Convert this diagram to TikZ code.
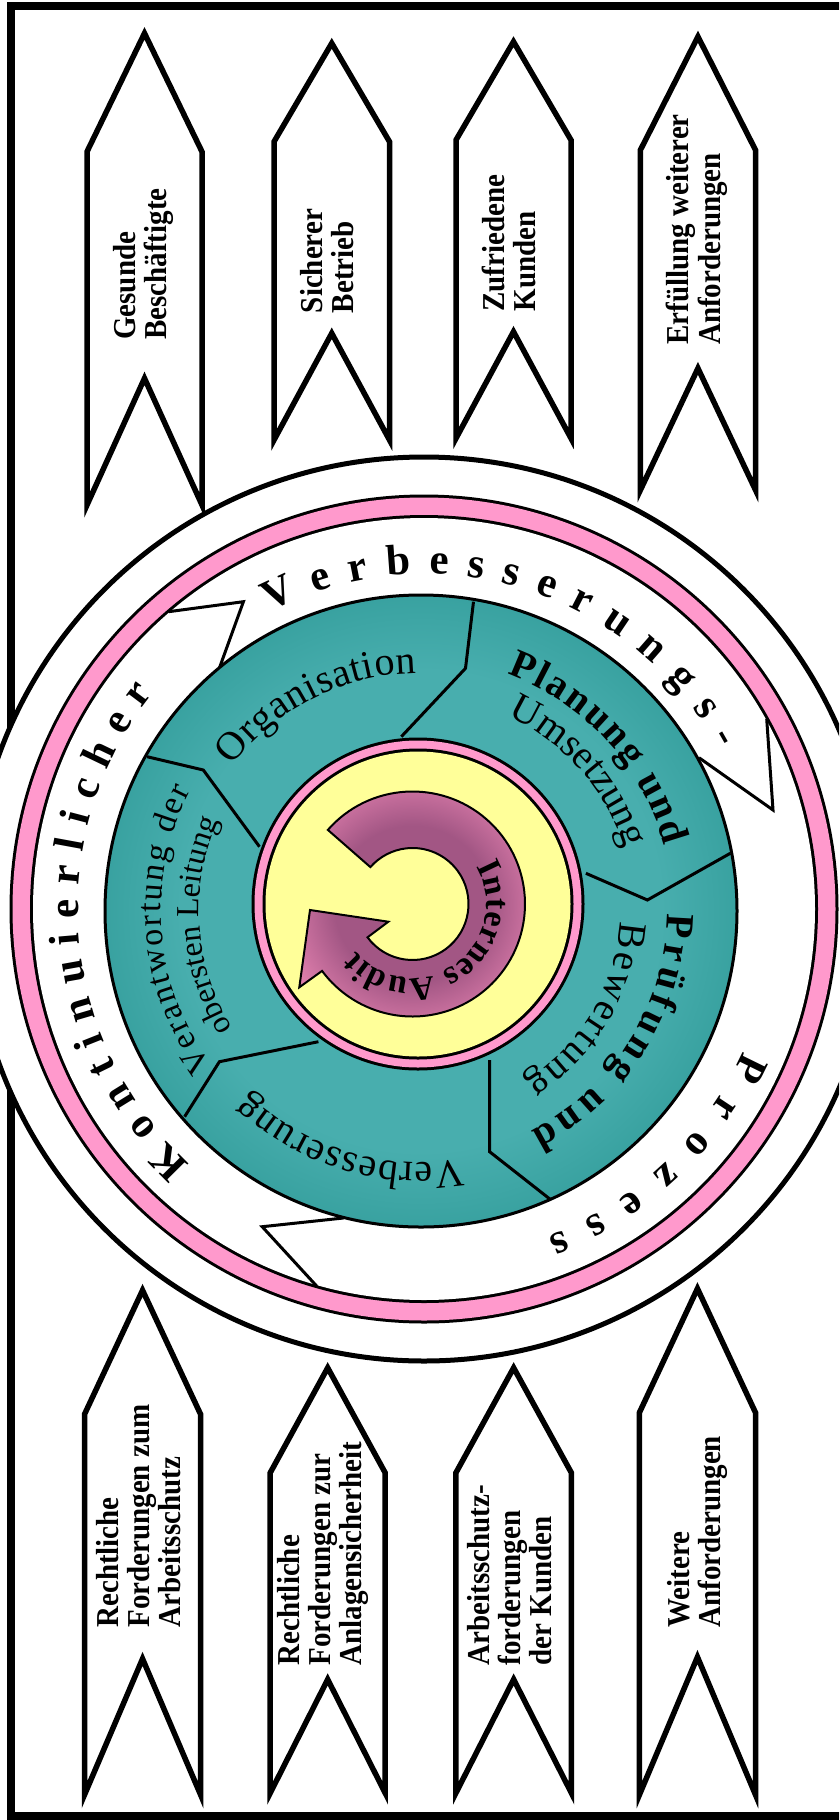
\documentclass[tikz,border=0pt]{standalone}
\usepackage{fontspec}
\usepackage{graphicx}
\setmainfont{Liberation Serif}
\usetikzlibrary{decorations.text}
\definecolor{pinkR}{RGB}{255,153,204}
\definecolor{yel}{RGB}{255,255,153}
\definecolor{tealL}{RGB}{72,174,174}
\definecolor{tealD}{RGB}{30,140,136}
\definecolor{magL}{RGB}{222,126,172}
\definecolor{magD}{RGB}{162,86,132}
\pgfdeclareradialshading{tealsh}{\pgfpoint{0bp}{0bp}}{color(0bp)=(tealL); color(19bp)=(tealL); color(35.5bp)=(tealD); color(50bp)=(tealD)}
\pgfdeclareradialshading{magsh}{\pgfpoint{0bp}{0bp}}{color(0bp)=(magD); color(13.5bp)=(magD); color(23bp)=(magL); color(50bp)=(magL)}
\newcommand\pfont{\fontsize{29}{26.7}\selectfont\bfseries}
\newcommand\rfont{\fontsize{43}{45}\selectfont\bfseries}
\newcommand\sfont{\fontsize{40}{42}\selectfont}
\newcommand\sbfont{\fontsize{40}{42}\selectfont\bfseries}
\newcommand\vfont{\fontsize{34}{36}\selectfont}
\newcommand\wfont{\fontsize{32}{34}\selectfont}
\newcommand\afont{\fontsize{34}{36}\selectfont\bfseries}
\newcommand\arctext[6]{\path[decorate,decoration={text along path,text align=fit to path,text={#6}}] ([shift={(#4:#3)}]#1,#2) arc[start angle=#4,end angle=#5,radius=#3];}
\newcommand\pennant[6]{\draw[penline] (#1,-#4) -- ({(#1+#2)/2},-#3) -- (#2,-#4) -- (#2,-#5) -- ({(#1+#2)/2},-#6) -- (#1,-#5) -- cycle;}
\newcommand\ptext[1]{\scalebox{1}[1.1]{\pfont\begin{tabular}{@{}l@{}}#1\end{tabular}}}
\begin{document}
\begin{tikzpicture}[x=1pt,y=1pt,
  penline/.style={draw=black, fill=white, line width=5.5pt, line join=miter},
  pentext/.style={rotate=90, inner sep=0pt, anchor=west},
  thinl/.style={draw=black, line width=3pt, line join=miter}]
\useasboundingbox (0,0) rectangle (839,-1820);
\clip (0,0) rectangle (839,-1820);
\fill[white] (0,0) rectangle (839,-1820);
% frame
\draw[line width=8pt] (860,-6) -- (11,-6) -- (11,-1816) -- (860,-1816);
% pennants top
\pennant{87}{202}{33.3}{151.7}{505}{378.3}
\pennant{274}{389.5}{43.3}{141.7}{440}{333.3}
\pennant{456}{571}{41.7}{140}{438.3}{331.7}
\pennant{640.4}{755.5}{36.7}{150}{490}{368.3}
% pennants bottom
\pennant{84.5}{200.6}{1290.3}{1414.3}{1794.8}{1658.8}
\pennant{270.2}{385.2}{1367.8}{1472.8}{1793}{1679.4}
\pennant{455.9}{571.4}{1367.8}{1472.8}{1793}{1679.4}
\pennant{639.4}{755.5}{1288.6}{1412.6}{1794.8}{1657}
% pennant texts
\node[pentext] (t1) at (144.5,-340) {\ptext{Gesunde\\Beschäftigte}};
\node[pentext] (t2) at (331.7,-313.3) {\ptext{Sicherer\\Betrieb}};
\node[pentext] (t3) at (513.5,-311.7) {\ptext{Zufriedene\\Kunden}};
\node[pentext] (t4) at (697.7,-345) {\ptext{Erfüllung weiterer\\Anforderungen}};
\node[pentext] (b1) at (142.5,-1627.8) {\ptext{Rechtliche\\Forderungen zum\\Arbeitsschutz}};
\node[pentext] (b2) at (324,-1665.7) {\ptext{Rechtliche\\Forderungen zur\\Anlagensicherheit}};
\node[pentext] (b3) at (513.5,-1665.7) {\ptext{Arbeitsschutz-\\forderungen\\der Kunden}};
\node[pentext] (b4) at (698.5,-1627.8) {\ptext{Weitere\\Anforderungen}};
% big circle
\draw[line width=5pt, fill=white] (424,-909) circle (452);
\fill[black] (424,-909) circle (414.5);
\fill[pinkR] (424,-909) circle (411.5);
\fill[black] (424,-909) circle (394);
\fill[white] (424,-909) circle (391);
% chevrons of the ring arrow
\draw[thinl] (168.5,-611.7) -- (243.4,-601.7) -- (219.4,-668);
\draw[thinl] (766.7,-718.8) -- (773,-810) -- (699,-757.7);
\draw[thinl] (316.8,-1286.2) -- (262.2,-1226.7) -- (343.4,-1218);
% teal disk
\shade[shading=tealsh] (421,-911) circle (316);
\draw[line width=3pt] (421,-911) circle (316);
\draw[thinl] (473.5,-601.7) -- (465.5,-668.3) -- (401.3,-736.7);
\draw[thinl] (147.1,-756.7) -- (203.3,-770) -- (259.5,-846.7);
\draw[thinl] (730.3,-853.3) -- (647.4,-900) -- (585.9,-873.3);
\draw[thinl] (489.6,-1060) -- (489.6,-1151.7) -- (551.1,-1200);
\draw[thinl] (318.4,-1041.7) -- (219.4,-1061.7) -- (184.6,-1116.7);
% inner ring
\fill[black] (418,-904) circle (166.5);
\fill[pinkR] (418,-904) circle (163.5);
\fill[black] (418,-904) circle (155.5);
\fill[yel] (418,-904) circle (152.5);
% magenta arrow
\begin{scope}
\clip (327.85,-829.9) arc[start angle=138.8, end angle=-143.5, radius=112.5] -- (299.3,-987.3) -- (310,-910) -- (388.3,-921.7) -- (367.5,-937.3) arc[start angle=-143.5, end angle=138.8, radius=56] -- cycle;
\shade[shading=magsh] (412.5,-904) circle (145);
\end{scope}
\draw[line width=2pt, line join=miter] (327.85,-829.9) arc[start angle=138.8, end angle=-143.5, radius=112.5] -- (299.3,-987.3) -- (310,-910) -- (388.3,-921.7) -- (367.5,-937.3) arc[start angle=-143.5, end angle=138.8, radius=56] -- cycle;
% ring texts
\arctext{424}{-909}{346}{227.5}{141.5}{|\rfont|Kontinuierlicher}
\arctext{424}{-909}{335}{117.5}{28.5}{|\rfont|Verbesserungs-}
\arctext{424}{-909}{350}{-24}{-69.3}{|\rfont|Prozess}
% segment texts
\arctext{421}{-911}{238}{142.5}{91}{|\sfont|Organisation}
\arctext{421}{-911}{252}{70}{15}{|\sbfont|Planung und}
\arctext{421}{-911}{213}{66}{19}{|\sfont|Umsetzung}
\arctext{421}{-911}{246}{-0.5}{-63.5}{|\sbfont|Prüfung und}
\arctext{421}{-911}{199}{-3}{-58.5}{|\sfont|Bewertung}
\arctext{421}{-911}{252}{-80.5}{-133.5}{|\sfont|Verbesserung}
\arctext{421}{-911}{260}{216.5}{152.5}{|\vfont|Verantwortung der}
\arctext{421}{-911}{222}{211.8}{156.2}{|\wfont|obersten Leitung}
\arctext{412.5}{-904}{74}{30.4}{-140}{|\afont|Internes Audit}
\end{tikzpicture}
\end{document}
